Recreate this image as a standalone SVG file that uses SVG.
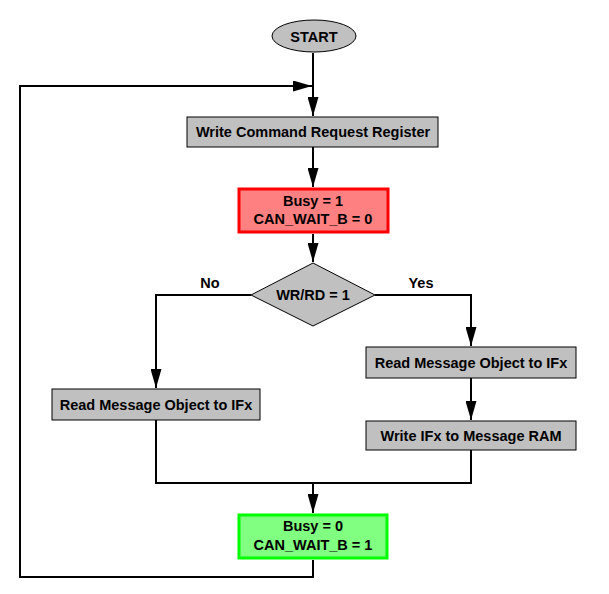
<svg xmlns="http://www.w3.org/2000/svg" width="609" height="594" viewBox="0 0 609 594">
<defs>
<marker id="arr" markerUnits="userSpaceOnUse" markerWidth="19" markerHeight="11" refX="19" refY="5.5" viewBox="0 0 19 11" orient="auto">
<path d="M0,0 L19,5.5 L0,11 Z" fill="#000"/>
</marker>
</defs>
<style>
.box{fill:#c0c0c0;stroke:#000;stroke-width:1}
.t{font-family:"Liberation Sans",Arial,sans-serif;font-weight:bold;font-size:14.5px;fill:#000;text-anchor:middle}
.c{fill:none;stroke:#000;stroke-width:2}
</style>
<rect width="609" height="594" fill="#fff"/>
<g id="connectors">
<path class="c" d="M313,53 V116" marker-end="url(#arr)"/>
<path class="c" d="M313,147 V187" marker-end="url(#arr)"/>
<path class="c" d="M313,234 V262" marker-end="url(#arr)"/>
<path class="c" d="M251,295 H156 V388" marker-end="url(#arr)"/>
<path class="c" d="M375,295 H471 V346" marker-end="url(#arr)"/>
<path class="c" d="M471,378 V420" marker-end="url(#arr)"/>
<path class="c" d="M156,420 V483 H471 V450"/>
<path class="c" d="M313,483 V513" marker-end="url(#arr)"/>
<path class="c" d="M313,560 V577 H20 V86 H312" marker-end="url(#arr)"/>
<text class="t" x="210" y="288">No</text>
<text class="t" x="421" y="288">Yes</text>
</g>
<g id="start">
<ellipse cx="314" cy="36" rx="42" ry="16" fill="#c0c0c0" stroke="#000" stroke-width="1"/>
<text class="t" x="314" y="42">START</text>
</g>
<g id="write-cmd">
<rect class="box" x="187" y="117" width="251" height="30"/>
<text class="t" x="313" y="137">Write Command Request Register</text>
</g>
<g id="busy1">
<rect x="239" y="189" width="149" height="43" fill="#ff8080" stroke="#ff0000" stroke-width="3"/>
<text class="t" x="313" y="206">Busy = 1</text>
<text class="t" x="313" y="224">CAN_WAIT_B = 0</text>
</g>
<g id="decision">
<polygon points="313,263 375,295 313,326 251,295" fill="#c0c0c0" stroke="#000" stroke-width="1"/>
<text class="t" x="313" y="300">WR/RD = 1</text>
</g>
<g id="read-left">
<rect class="box" x="52" y="389" width="208" height="31"/>
<text class="t" x="156" y="410">Read Message Object to IFx</text>
</g>
<g id="read-right">
<rect class="box" x="366" y="347" width="210" height="31"/>
<text class="t" x="471" y="368">Read Message Object to IFx</text>
</g>
<g id="write-ram">
<rect class="box" x="366" y="421" width="210" height="29"/>
<text class="t" x="471" y="441">Write IFx to Message RAM</text>
</g>
<g id="busy0">
<rect x="239" y="515" width="148" height="43" fill="#80ff80" stroke="#00ff00" stroke-width="3"/>
<text class="t" x="313" y="531">Busy = 0</text>
<text class="t" x="313" y="550">CAN_WAIT_B = 1</text>
</g>
</svg>
